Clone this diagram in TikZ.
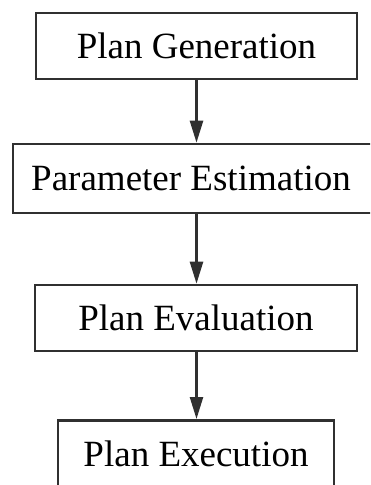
\documentclass[tikz,border=0pt]{standalone}
\usepackage{fontspec}
\setmainfont{Liberation Serif}
\usetikzlibrary{arrows.meta}
\definecolor{ink}{HTML}{303030}
\tikzset{
  stage/.style={draw=ink, line width=2.6pt, inner sep=0pt, fill=white,
    font=\fontsize{37}{44}\selectfont, text=black},
  flow/.style={draw=ink, line width=2.4pt,
    -{Triangle[length=22pt,width=13pt]}},
}
\begin{document}
\begin{tikzpicture}[x=1pt,y=-1pt]
  \useasboundingbox (0,0) rectangle (370,485);
  \clip (0,0) rectangle (370,485);
  \node[stage, minimum width=321pt, minimum height=66pt] (gen) at (196.5,46) {Plan Generation};
  % the wide box runs past the right edge; its label sits a little left of centre
  \node[stage, minimum width=366pt, minimum height=69pt] (est) at (196,178.5) {\hspace*{-10pt}Parameter Estimation};
  \node[stage, minimum width=322pt, minimum height=66pt] (eval) at (196,318) {Plan Evaluation};
  \node[stage, minimum width=276pt, text height=46pt, text depth=40pt, anchor=north] (exec) at (196,419) {Plan Execution};
  \draw[flow] (gen.south) -- (gen.south |- est.north);
  \draw[flow] (est.south -| gen.south) -- (gen.south |- eval.north);
  \draw[flow] (eval.south -| gen.south) -- (gen.south |- exec.north);
\end{tikzpicture}
\end{document}
